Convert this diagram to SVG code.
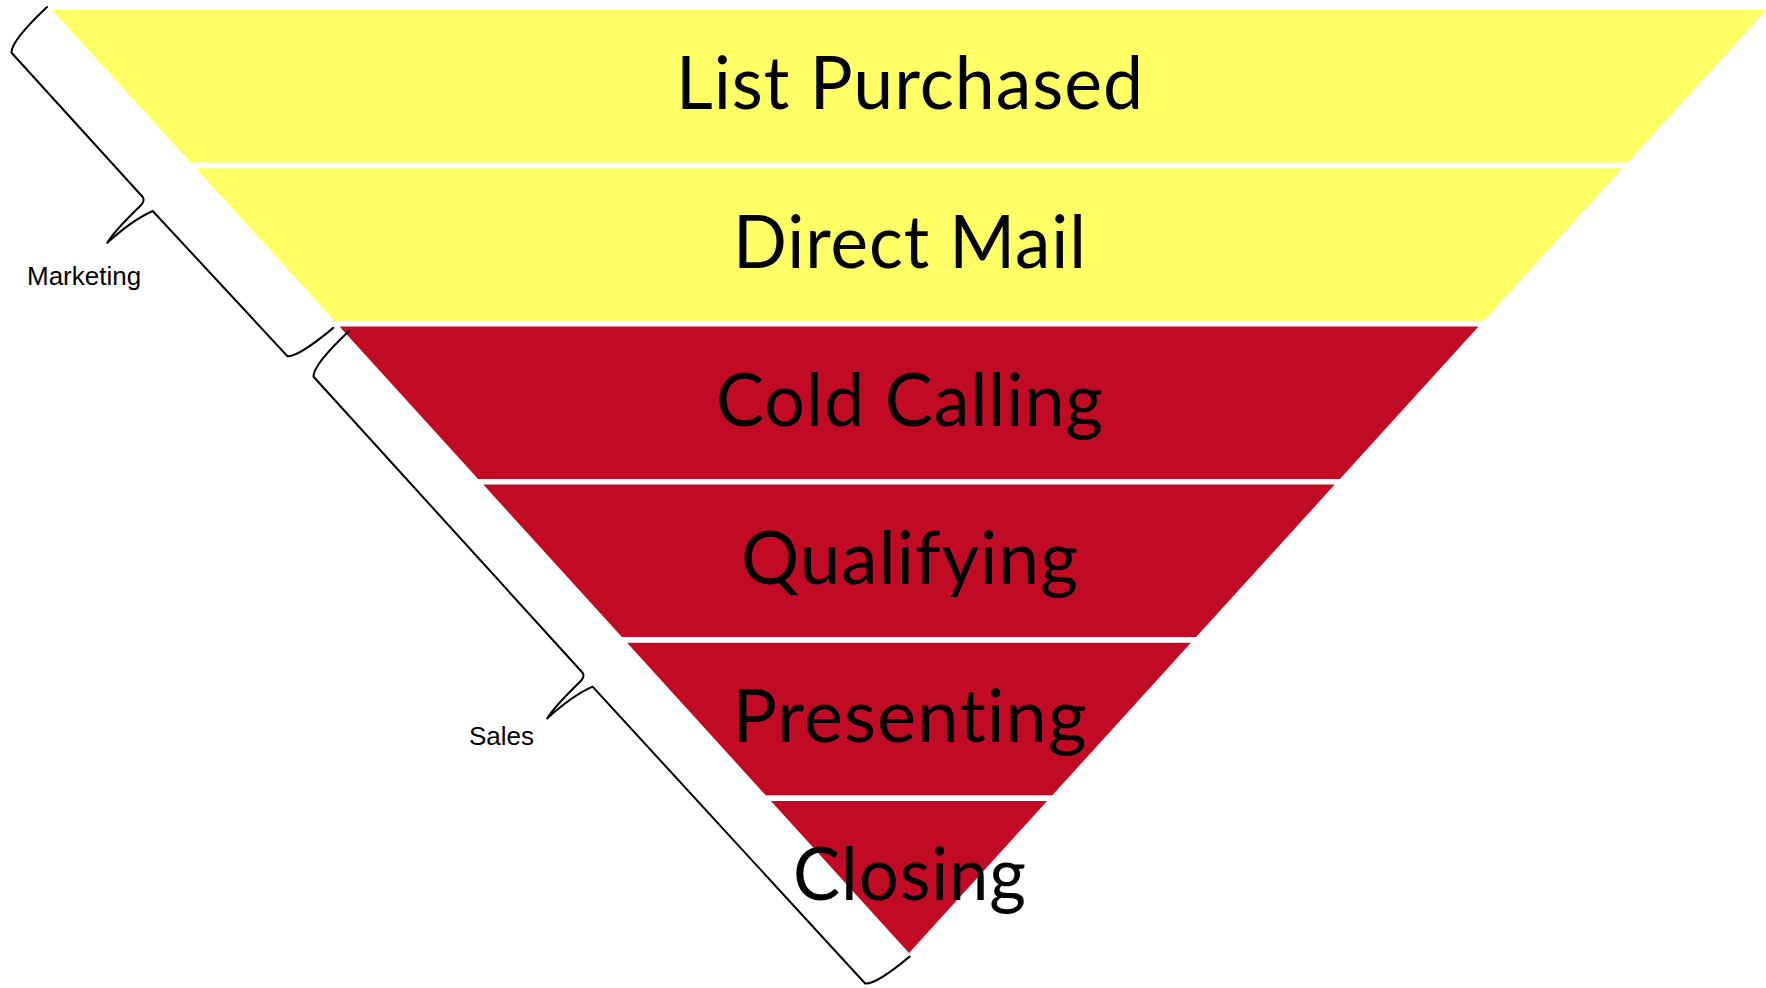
<svg xmlns="http://www.w3.org/2000/svg" width="1766" height="988" viewBox="0 0 1766 988">
  <style>
    .yellow { fill: #FFFF66; }
    .red { fill: #C10B25; }
    .stage { font-family: "Lato", "Open Sans", "Liberation Sans", sans-serif; font-size: 74px; fill: #000000; text-anchor: middle; font-variant-ligatures: none; font-feature-settings: "liga" 0, "dlig" 0; letter-spacing: 1px; }
    .brace { fill: none; stroke: #000000; stroke-width: 2; stroke-linejoin: round; stroke-linecap: round; }
    .label { font-family: "Liberation Sans", Arial, sans-serif; font-size: 26px; fill: #000000; }
  </style>
  <rect x="0" y="0" width="1766" height="988" fill="#FFFFFF"/>

  <g id="node-list-purchased">
    <polygon class="yellow" points="52,10 1766,10 1627.4,162.5 190.6,162.5"/>
    <text class="stage" x="910" y="109.3" textLength="468" lengthAdjust="spacingAndGlyphs">List Purchased</text>
  </g>
  <g id="node-direct-mail">
    <polygon class="yellow" points="195.8,168.2 1622.2,168.2 1483.6,320.7 334.4,320.7"/>
    <text class="stage" x="910" y="267.5" textLength="354" lengthAdjust="spacingAndGlyphs">Direct Mail</text>
  </g>
  <g id="node-cold-calling">
    <polygon class="red" points="339.5,326.4 1478.5,326.4 1339.9,478.9 478.1,478.9"/>
    <text class="stage" x="910" y="425.7" textLength="388" lengthAdjust="spacingAndGlyphs">Cold Calling</text>
  </g>
  <g id="node-qualifying">
    <polygon class="red" points="483.3,484.6 1334.7,484.6 1196.1,637.1 621.9,637.1"/>
    <text class="stage" x="910" y="583.9" textLength="338" lengthAdjust="spacingAndGlyphs">Qualifying</text>
  </g>
  <g id="node-presenting">
    <polygon class="red" points="627.1,642.8 1190.9,642.8 1052.3,795.3 765.7,795.3"/>
    <text class="stage" x="910" y="742.1" textLength="355" lengthAdjust="spacingAndGlyphs">Presenting</text>
  </g>

  <g id="brace-marketing">
    <path class="brace" transform="matrix(0.6727 0.74 -0.74 0.6727 47 7)"
      d="M 0 0 Q 1 50 10 57 L 205 57 Q 210 58 210 66 Q 211 100 215 114 Q 215 80 222 59 L 420 57 Q 428 50 430 4"/>
    <text class="label" x="27" y="285">Marketing</text>
  </g>
  <g id="brace-sales">
    <path class="brace" transform="matrix(0.6727 0.74 -0.74 0.6727 349 331)"
      d="M 0 0 Q 1 50 10 57 L 410 57 Q 415 58 415 66 Q 416 100 420 114 Q 420 80 427 59 L 830 57 Q 838 50 840 6"/>
    <text class="label" x="469" y="745">Sales</text>
  </g>

  <g id="node-closing">
    <polygon class="red" points="770.9,801 1047.1,801 909,953"/>
    <text class="stage" x="910" y="900.3" textLength="234" lengthAdjust="spacingAndGlyphs">Closing</text>
  </g>

  <g id="connectors"></g>
</svg>
